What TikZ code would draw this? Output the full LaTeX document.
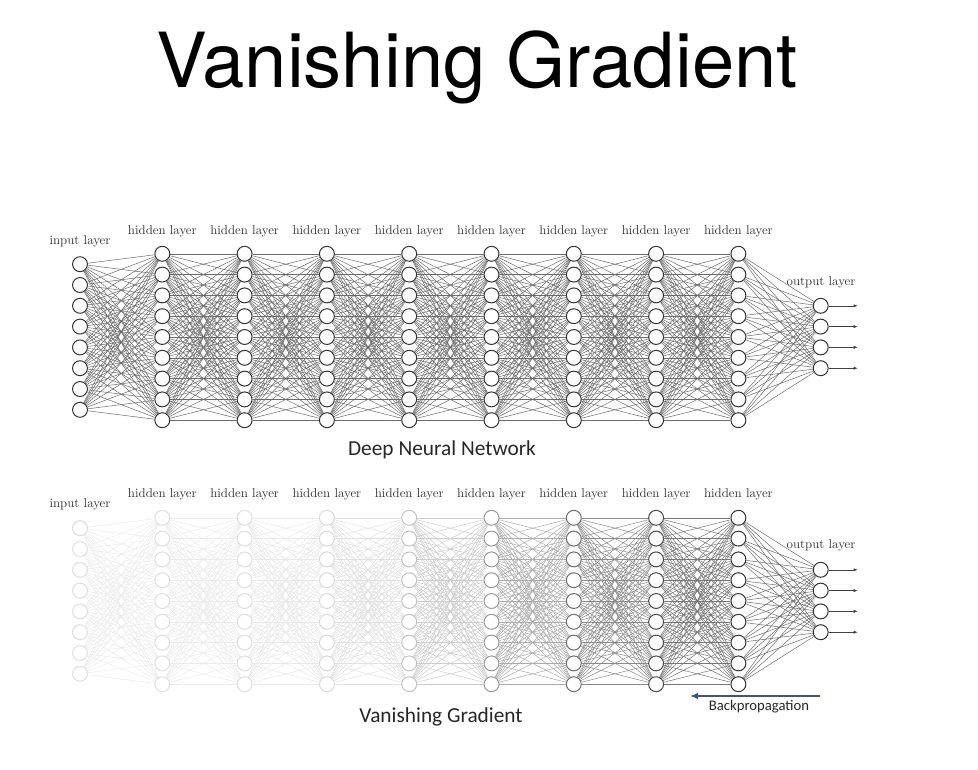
\documentclass[tikz,border=0pt]{standalone}
\usepackage{fontspec}
\usepackage{xcolor}
\usepackage{tikz}
\usetikzlibrary{arrows.meta, positioning}
\newfontfamily\titulofont{TeX Gyre Heros}
\newfontfamily\legendafont{Carlito}
\definecolor{ardosia}{HTML}{44546A}
\tikzset{
    neur/.style    = {circle, draw=black!80, fill=white, line width=0.75pt,
                      inner sep=0pt, minimum size=11.2pt},
    lig/.style     = {line width=0.38pt, black!58},
    camada/.style  = {font=\fontsize{9.6}{11}\selectfont, text=black!80, inner sep=1pt},
    legenda/.style = {font=\legendafont\fontsize{16}{18}\selectfont, text=black!85,
                      anchor=base, inner sep=0pt},
    saida/.style   = {-{Latex[length=3pt,width=2.4pt]}, line width=0.45pt, black!75},
    volta/.style   = {-{Latex[length=6pt,width=5pt]}, line width=1.1pt, ardosia},
}

\begin{document}
\begin{tikzpicture}[x=0.75pt, y=-0.75pt]
    \useasboundingbox (0,0) rectangle (978,770);
    % titulo
    \node[font=\titulofont\fontsize{57}{62}\selectfont, anchor=base, inner sep=0pt]
        (titulo) at (477,88) {Vanishing Gradient};

    % rede de cima: neuronios
    \foreach \k in {0,...,9} {
        \pgfmathtruncatemacro{\n}{\k==0 ? 8 : (\k==9 ? 4 : 9)}
        \foreach \i in {1,...,\n}
            \node[neur] (a\k-\i) at ({80+82.3*\k},{337+20.8*(\i-(\n+1)/2)}) {};
    }
    % rede de cima: ligacoes
    \foreach \k in {0,...,8} {
        \pgfmathtruncatemacro{\j}{\k+1}
        \pgfmathtruncatemacro{\m}{\k==0 ? 8 : 9}
        \pgfmathtruncatemacro{\n}{\j==9 ? 4 : 9}
        \foreach \i in {1,...,\m}
            \foreach \l in {1,...,\n}
                \draw[lig] (a\k-\i) -- (a\j-\l);
    }
    % saidas
    \foreach \i in {1,...,4} {
        \path (a9-\i) ++(37,0) coordinate (as-\i);
        \draw[saida] (a9-\i) -- (as-\i);
    }
    % rotulos
    \node[camada] (ra-in) at (80,241) {input layer};
    \foreach \k in {1,...,8}
        \node[camada] (ra-h\k) at ({80+82.3*\k},231) {hidden layer};
    \node[camada] (ra-out) at (821,282) {output layer};
    \node[legenda] (leg-a) at (442,455) {Deep Neural Network};

    % rede de baixo: neuronios esmaecidos
    \foreach \k/\f in {0/13,1/13,2/13,3/15,4/24,5/40,6/58,7/72,8/80,9/80} {
        \pgfmathtruncatemacro{\n}{\k==0 ? 8 : (\k==9 ? 4 : 9)}
        \foreach \i in {1,...,\n}
            \node[neur, draw=black!\f] (b\k-\i) at ({80+82.3*\k},{601+20.8*(\i-(\n+1)/2)}) {};
    }
    % rede de baixo: ligacoes
    \foreach \k/\f in {0/8,1/8,2/9,3/12,4/20,5/33,6/46,7/54,8/58} {
        \pgfmathtruncatemacro{\j}{\k+1}
        \pgfmathtruncatemacro{\m}{\k==0 ? 8 : 9}
        \pgfmathtruncatemacro{\n}{\j==9 ? 4 : 9}
        \foreach \i in {1,...,\m}
            \foreach \l in {1,...,\n}
                \draw[lig, draw=black!\f] (b\k-\i) -- (b\j-\l);
    }
    \foreach \i in {1,...,4} {
        \path (b9-\i) ++(37,0) coordinate (bs-\i);
        \draw[saida] (b9-\i) -- (bs-\i);
    }
    \node[camada] (rb-in) at (80,504) {input layer};
    \foreach \k in {1,...,8}
        \node[camada] (rb-h\k) at ({80+82.3*\k},494) {hidden layer};
    \node[camada] (rb-out) at (821,545) {output layer};
    \node[legenda] (leg-b) at (441,722) {Vanishing Gradient};

    % retropropagacao
    \coordinate (bp-ini) at (820,696);
    \coordinate (bp-fim) at (690,696);
    \draw[volta] (bp-ini) -- (bp-fim);
    \node[legenda, font=\legendafont\fontsize{11}{13}\selectfont] (bp-txt) at (759,710) {Backpropagation};
\end{tikzpicture}
\end{document}
